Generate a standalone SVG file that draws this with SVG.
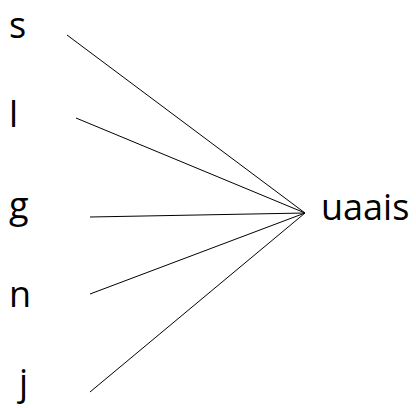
<svg xmlns="http://www.w3.org/2000/svg" width="416" height="408" viewBox="0 0 416 408">
<style>
text{font-family:"Open Sans","Noto Sans",sans-serif;font-size:36px;fill:#000}
.c line{stroke:#000;stroke-width:1}
</style>
<rect width="416" height="408" fill="#fff"/>
<g class="c" id="connectors">
<line x1="67" y1="35" x2="305" y2="213"/>
<line x1="76" y1="118" x2="305" y2="213"/>
<line x1="90" y1="217" x2="305" y2="213"/>
<line x1="90" y1="294" x2="305" y2="213"/>
<line x1="90" y1="392" x2="305" y2="213"/>
</g>
<g id="node-s"><text x="9" y="38">s</text></g>
<g id="node-l"><text x="9" y="127">l</text></g>
<g id="node-g"><text x="9" y="218">g</text></g>
<g id="node-n"><text x="9" y="307">n</text></g>
<g id="node-j"><text x="19" y="395">j</text></g>
<g id="node-uaais"><text x="321" y="220">uaais</text></g>
</svg>
